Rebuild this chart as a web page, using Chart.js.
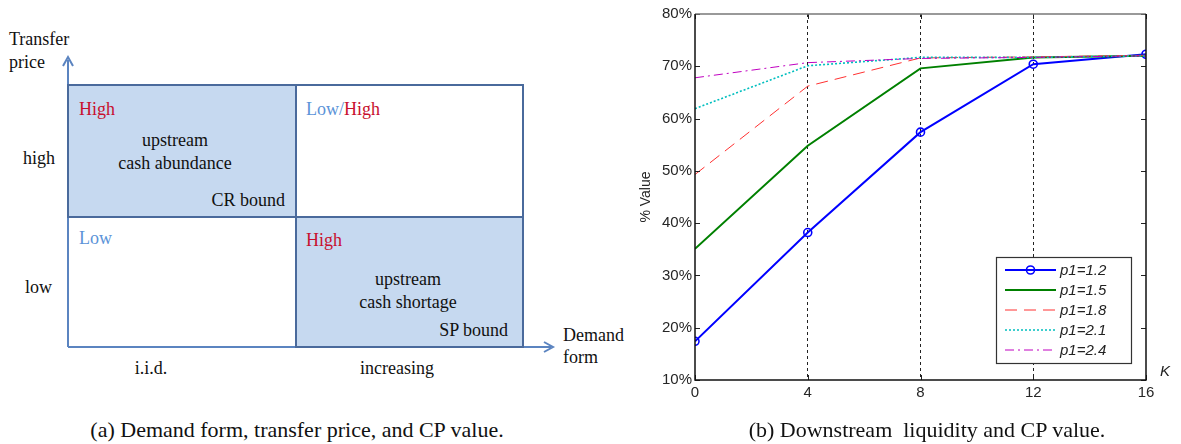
<!DOCTYPE html>
<html>
<head>
<meta charset="utf-8">
<script src="https://cdn.jsdelivr.net/npm/chart.js@4.4.1/dist/chart.umd.min.js"></script>
<style>
  html, body { margin: 0; padding: 0; background: #fff; }
  #page { position: relative; width: 1181px; height: 444px; overflow: hidden; font-family: "Liberation Serif", "Times New Roman", serif; color: #111; }
  .t { position: absolute; font-size: 18px; line-height: 1; white-space: nowrap; }
  .red { color: #c8102e; }
  .blue { color: #5b93d8; }
  .cell { position: absolute; border: 2px solid #4a6a9c; box-sizing: border-box; }
  .fill { background: #c6d9f0; }
  .caption { position: absolute; font-size: 22px; line-height: 1; white-space: nowrap; transform: translateX(-50%); }
  #chartBox { position: absolute; left: 620px; top: 0; width: 561px; height: 444px; }
</style>
</head>
<body>
<div id="page">
  <!-- (a) diagram -->
  <svg width="600" height="444" style="position:absolute;left:0;top:0">
    <line x1="68" y1="347" x2="68" y2="60" stroke="#5b84c0" stroke-width="2"/>
    <polyline points="63,66 68,57 73,66" fill="none" stroke="#5b84c0" stroke-width="2"/>
    <line x1="68" y1="347" x2="551" y2="347" stroke="#5b84c0" stroke-width="2"/>
    <polyline points="544,342 553,347 544,352" fill="none" stroke="#5b84c0" stroke-width="2"/>
  </svg>
  <div class="cell fill" style="left:67px;top:84px;width:230px;height:134px"></div>
  <div class="cell" style="left:295px;top:84px;width:229px;height:134px"></div>
  <div class="cell" style="left:67px;top:216px;width:230px;height:132px;border-left:none;border-bottom:none"></div>
  <div class="cell fill" style="left:295px;top:216px;width:229px;height:132px"></div>

  <div class="t" style="left:9px;top:30px">Transfer</div>
  <div class="t" style="left:9px;top:53px">price</div>
  <div class="t" style="left:23px;top:149px">high</div>
  <div class="t" style="left:25px;top:278px">low</div>

  <div class="t red" style="left:79px;top:100px">High</div>
  <div class="t" style="left:175px;top:131px;transform:translateX(-50%)">upstream</div>
  <div class="t" style="left:175px;top:154px;transform:translateX(-50%)">cash abundance</div>
  <div class="t" style="left:285px;top:191px;transform:translateX(-100%)">CR bound</div>

  <div class="t" style="left:306px;top:100px"><span class="blue">Low/</span><span class="red">High</span></div>
  <div class="t blue" style="left:79px;top:229px">Low</div>

  <div class="t red" style="left:306px;top:231px">High</div>
  <div class="t" style="left:408px;top:270px;transform:translateX(-50%)">upstream</div>
  <div class="t" style="left:408px;top:293px;transform:translateX(-50%)">cash shortage</div>
  <div class="t" style="left:508px;top:321px;transform:translateX(-100%)">SP bound</div>

  <div class="t" style="left:151px;top:359px;transform:translateX(-50%)">i.i.d.</div>
  <div class="t" style="left:397px;top:359px;transform:translateX(-50%)">increasing</div>
  <div class="t" style="left:563px;top:326px">Demand</div>
  <div class="t" style="left:563px;top:348px">form</div>

  <div class="caption" style="left:297px;top:419px">(a) Demand form, transfer price, and CP value.</div>

  <!-- (b) chart -->
  <div id="chartBox"><canvas id="cpChart"></canvas></div>
  <div class="caption" style="left:927px;top:419px">(b) Downstream&nbsp; liquidity and CP value.</div>
</div>

<script>
// K values on the x axis
const kValues = [0, 4, 8, 12, 16];
const yTicks = [10, 20, 30, 40, 50, 60, 70, 80];

// % value per series
const seriesLabels = ["p1=1.2", "p1=1.5", "p1=1.8", "p1=2.1", "p1=2.4"];
const p1_12 = [17.4, 38.2, 57.4, 70.4, 72.3];
const p1_15 = [35.1, 54.8, 69.6, 71.7, 72.0];
const p1_18 = [49.3, 66.2, 71.6, 71.8, 72.1];
const p1_21 = [61.9, 70.1, 71.7, 71.7, 72.0];
const p1_24 = [67.8, 70.7, 71.5, 71.7, 72.0];

const toPoints = (vals) => vals.map((v, i) => ({ x: kValues[i], y: v }));

const styles = [
  { color: "#0000ff", width: 2, dash: [], marker: true },
  { color: "#008000", width: 2, dash: [], marker: false },
  { color: "#ff3030", width: 1, dash: [12, 7], marker: false },
  { color: "#00bfbf", width: 1.6, dash: [2, 2], marker: false },
  { color: "#c000c0", width: 1, dash: [9, 4, 2, 4], marker: false },
];
const allSeries = [p1_12, p1_15, p1_18, p1_21, p1_24];

const datasets = allSeries.map((vals, i) => ({
  label: seriesLabels[i],
  data: toPoints(vals),
  borderColor: styles[i].color,
  borderWidth: styles[i].width,
  borderDash: styles[i].dash,
  backgroundColor: "transparent",
  pointRadius: styles[i].marker ? 4 : 0,
  pointBorderWidth: 1.6,
  pointBorderColor: styles[i].color,
  pointBackgroundColor: "transparent",
  tension: 0,
  fill: false,
})).reverse();

const matlabFrame = {
  id: "matlabFrame",
  afterDraw(chart) {
    const { ctx, chartArea: a, scales } = chart;
    ctx.save();
    // ticks inward
    ctx.strokeStyle = "#222";
    ctx.lineWidth = 1;
    ctx.setLineDash([]);
    yTicks.forEach((v) => {
      const y = Math.round(scales.y.getPixelForValue(v)) + 0.5;
      ctx.beginPath();
      ctx.moveTo(a.left, y); ctx.lineTo(a.left + 5, y);
      ctx.moveTo(a.right, y); ctx.lineTo(a.right - 5, y);
      ctx.stroke();
    });
    kValues.forEach((v) => {
      const x = Math.round(scales.x.getPixelForValue(v)) + 0.5;
      ctx.beginPath();
      ctx.moveTo(x, a.bottom); ctx.lineTo(x, a.bottom - 5);
      ctx.moveTo(x, a.top); ctx.lineTo(x, a.top + 5);
      ctx.stroke();
    });
    // box
    ctx.lineWidth = 1.5;
    ctx.strokeStyle = "#777";
    ctx.beginPath();
    ctx.moveTo(a.left, a.top); ctx.lineTo(a.right, a.top);
    ctx.stroke();
    ctx.strokeStyle = "#111";
    ctx.beginPath();
    ctx.moveTo(a.left, a.top); ctx.lineTo(a.left, a.bottom); ctx.lineTo(a.right, a.bottom); ctx.lineTo(a.right, a.top);
    ctx.stroke();

    // K label
    ctx.fillStyle = "#222";
    ctx.font = "italic 15px 'Liberation Sans', Arial, sans-serif";
    ctx.textBaseline = "middle";
    ctx.textAlign = "left";
    ctx.fillText("K", a.right + 14, a.bottom - 8);

    // legend box
    const lx = a.right - 150, ly = a.bottom - 123, lw = 135, lh = 106;
    ctx.fillStyle = "#fff";
    ctx.fillRect(lx, ly, lw, lh);
    ctx.strokeStyle = "#333";
    ctx.lineWidth = 1.2;
    ctx.strokeRect(lx + 0.5, ly + 0.5, lw, lh);
    ctx.font = "italic 15px 'Liberation Sans', Arial, sans-serif";
    seriesLabels.forEach((lab, i) => {
      const st = styles[i];
      const y = ly + 13 + i * 20;
      ctx.strokeStyle = st.color;
      ctx.lineWidth = st.width;
      ctx.setLineDash(st.dash);
      ctx.beginPath();
      ctx.moveTo(lx + 9, y); ctx.lineTo(lx + 60, y);
      ctx.stroke();
      ctx.setLineDash([]);
      if (st.marker) {
        ctx.lineWidth = 1.6;
        ctx.beginPath();
        ctx.arc(lx + 34.5, y, 4, 0, Math.PI * 2);
        ctx.stroke();
      }
      ctx.fillStyle = "#222";
      ctx.fillText(lab, lx + 64, y + 1);
    });
    ctx.restore();
  },
};

new Chart(document.getElementById("cpChart"), {
  type: "line",
  data: { datasets },
  options: {
    responsive: true,
    maintainAspectRatio: false,
    animation: false,
    layout: { padding: { left: 0, right: 35, top: 14, bottom: 0 } },
    plugins: { legend: { display: false }, tooltip: { enabled: false } },
    scales: {
      x: {
        type: "linear",
        min: 0,
        max: 16,
        afterFit: (s) => { s.height = 64; },
        afterBuildTicks: (s) => { s.ticks = kValues.map((v) => ({ value: v })); },
        grid: {
          drawTicks: false,
          color: (c) => (c.tick && c.tick.value > 0 && c.tick.value < 16 ? "#222" : "transparent"),
          lineWidth: 1,
        },
        border: { display: false, dash: [3, 3] },
        ticks: {
          padding: 4,
          color: "#262626",
          font: { family: "'Liberation Sans', Arial, sans-serif", size: 15 },
          maxRotation: 0,
        },
      },
      y: {
        type: "linear",
        min: 10,
        max: 80,
        afterFit: (s) => { s.width = 75; },
        afterBuildTicks: (s) => { s.ticks = yTicks.map((v) => ({ value: v })); },
        grid: { display: false, drawTicks: false },
        border: { display: false },
        ticks: {
          padding: 3,
          color: "#262626",
          font: { family: "'Liberation Sans', Arial, sans-serif", size: 15 },
          callback: (v) => v + "%",
        },
        title: {
          display: true,
          text: "% Value",
          color: "#262626",
          font: { family: "'Liberation Sans', Arial, sans-serif", size: 14 },
          padding: { top: 18, bottom: 0 },
        },
      },
    },
  },
  plugins: [matlabFrame],
});
</script>
</body>
</html>
